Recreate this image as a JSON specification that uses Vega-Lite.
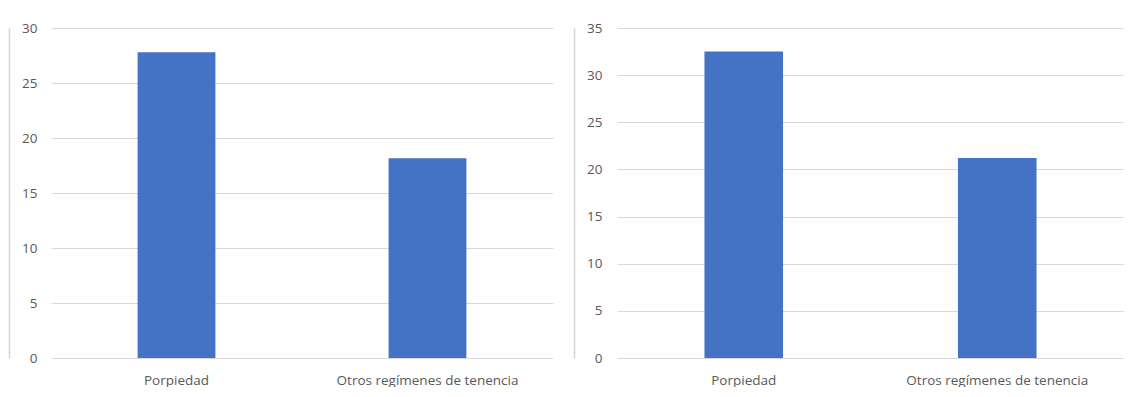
{
  "$schema": "https://vega.github.io/schema/vega-lite/v6.json",
  "background": "white",
  "padding": {"left": 9, "top": 21, "right": 0, "bottom": 0},
  "spacing": 21,
  "datasets": {
    "tenencia": [
      {"panel": "A", "tenencia": "Porpiedad", "valor": 27.8},
      {"panel": "A", "tenencia": "Otros regímenes de tenencia", "valor": 18.15},
      {"panel": "B", "tenencia": "Porpiedad", "valor": 32.5},
      {"panel": "B", "tenencia": "Otros regímenes de tenencia", "valor": 21.2}
    ]
  },
  "config": {
    "view": {"stroke": null},
    "axis": {
      "labelFont": "Open Sans",
      "labelFontSize": 13.5,
      "labelColor": "#595959",
      "labelLimit": 0,
      "title": null,
      "ticks": false,
      "gridColor": "#d9d9d9",
      "gridWidth": 1,
      "domainColor": "#d4d4d4",
      "domainWidth": 1.5
    }
  },
  "hconcat": [
    {
      "width": 502,
      "height": 330,
      "data": {"name": "tenencia"},
      "transform": [{"filter": "datum.panel == 'A'"}],
      "mark": {"type": "bar", "color": "#4472C4", "width": {"band": 0.31}},
      "encoding": {
        "x": {
          "field": "tenencia",
          "type": "nominal",
          "sort": null,
          "scale": {"paddingInner": 0, "paddingOuter": 0},
          "axis": {"labelAngle": 0, "labelPadding": 15, "domain": false, "grid": false}
        },
        "y": {
          "field": "valor",
          "type": "quantitative",
          "scale": {"domain": [0, 30], "nice": false},
          "axis": {
            "values": [0, 5, 10, 15, 20, 25, 30],
            "grid": true,
            "domain": true,
            "offset": 42,
            "labelPadding": -28,
            "labelAlign": "right"
          }
        }
      }
    },
    {
      "width": 507,
      "height": 330,
      "data": {"name": "tenencia"},
      "transform": [{"filter": "datum.panel == 'B'"}],
      "mark": {"type": "bar", "color": "#4472C4", "width": {"band": 0.31}},
      "encoding": {
        "x": {
          "field": "tenencia",
          "type": "nominal",
          "sort": null,
          "scale": {"paddingInner": 0, "paddingOuter": 0},
          "axis": {"labelAngle": 0, "labelPadding": 15, "domain": false, "grid": false}
        },
        "y": {
          "field": "valor",
          "type": "quantitative",
          "scale": {"domain": [0, 35], "nice": false},
          "axis": {
            "values": [0, 5, 10, 15, 20, 25, 30, 35],
            "grid": true,
            "domain": true,
            "offset": 43,
            "labelPadding": -28,
            "labelAlign": "right"
          }
        }
      }
    }
  ]
}
